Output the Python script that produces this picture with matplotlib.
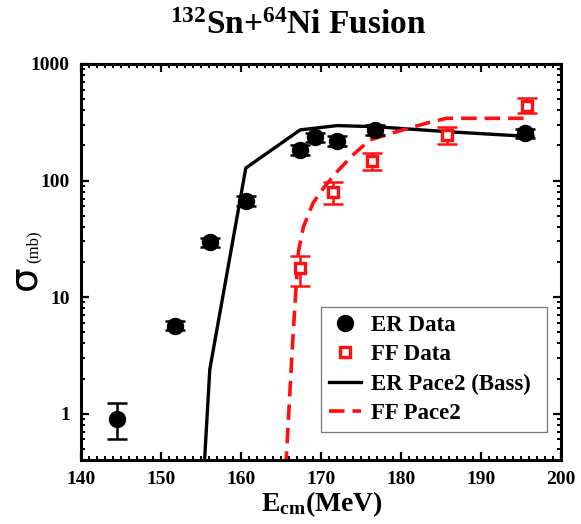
import matplotlib
matplotlib.use("Agg")
import matplotlib.pyplot as plt
from matplotlib.ticker import LogLocator, MultipleLocator, NullFormatter, FixedLocator, FixedFormatter

plt.rcParams['font.family'] = ['Liberation Serif', 'DejaVu Serif']
plt.rcParams['font.weight'] = 'bold'
plt.rcParams['mathtext.fontset'] = 'custom'
plt.rcParams['mathtext.rm'] = 'Liberation Serif:bold'
plt.rcParams['mathtext.bf'] = 'Liberation Serif:bold'
plt.rcParams['mathtext.it'] = 'Liberation Serif:bold'

# Evaporation residue (ER) cross sections
er_energy = [144.5, 151.75, 156.1, 160.6, 167.4, 169.25, 172.0, 176.7, 195.5]
er_sigma = [0.9, 5.7, 29.5, 67, 183, 235, 219, 272, 255]
er_err_lo = [0.3, 0.5, 2.5, 6, 17, 22, 20, 25, 24]
er_err_hi = [0.33, 0.5, 2.5, 6, 17, 22, 20, 25, 24]

# Fission fragment (FF) cross sections
ff_energy = [167.4, 171.5, 176.4, 185.8, 195.7]
ff_sigma = [17.7, 80, 148, 246, 437]
ff_err_lo = [5.2, 17, 25, 40, 54]
ff_err_hi = [4.6, 18, 24, 41, 71]

# PACE2 calculations
er_pace_energy = [155.4, 156.1, 160.6, 167.4, 172.0, 176.7, 186.0, 196.5]
er_pace_sigma = [0.35, 2.4, 128, 272, 296, 290, 262, 238]

ff_pace_energy = [165.6, 166.4, 166.8, 167.2, 167.8, 169.0, 170.3, 172.0,
                  174.0, 176.1, 179.5, 183.2, 185.7, 195.7]
ff_pace_sigma = [0.35, 3.5, 10, 25, 40, 64, 86, 119,
                 166, 223, 263, 311, 342, 342]

x_ticks = [140, 150, 160, 170, 180, 190, 200]
y_ticks = [1, 10, 100, 1000]
y_tick_labels = ['1', '10', '100', '1000']

red = '#ff1010'

fig = plt.figure(figsize=(5.81, 5.24), dpi=100)
ax = fig.add_axes([81 / 581, 1 - 460 / 524, 480 / 581, 396 / 524])

ax.plot(er_pace_energy, er_pace_sigma, color='black', lw=2.4,
        label='ER Pace2 (Bass)', zorder=2)
ax.plot(ff_pace_energy, ff_pace_sigma, color=red, lw=2.6,
        dashes=(4.3, 2.2), label='FF Pace2', zorder=2)

ax.errorbar(er_energy, er_sigma, yerr=[er_err_lo, er_err_hi], fmt='none',
            ecolor='black', elinewidth=1.8, capsize=7.5, capthick=1.8, zorder=3)
ax.errorbar(ff_energy, ff_sigma, yerr=[ff_err_lo, ff_err_hi], fmt='none',
            ecolor=red, elinewidth=1.8, capsize=7.5, capthick=1.8, zorder=3)
ax.plot(er_energy, er_sigma, 'o', color='black', ms=11.5, ls='none',
        label='ER Data', zorder=4)
ax.plot(ff_energy, ff_sigma, 's', mfc='white', mec=red, mew=2.4, ms=7.5,
        ls='none', label='FF Data', zorder=4)

ax.set_yscale('log')
ax.set_xlim(140, 200)
ax.set_ylim(0.4, 1000)

ax.xaxis.set_major_locator(FixedLocator(x_ticks))
ax.xaxis.set_minor_locator(MultipleLocator(1))
ax.yaxis.set_major_locator(FixedLocator(y_ticks))
ax.yaxis.set_major_formatter(FixedFormatter(y_tick_labels))
ax.yaxis.set_minor_locator(LogLocator(base=10, subs=range(2, 10)))
ax.yaxis.set_minor_formatter(NullFormatter())

ax.tick_params(which='both', direction='in', top=True, right=True,
               labelsize=14, pad=8)
ax.tick_params(which='major', length=5.5, width=1.6)
ax.tick_params(which='minor', length=2.8, width=1.4)
for s in ax.spines.values():
    s.set_linewidth(2.2)

handles, labels = ax.get_legend_handles_labels()
order = [labels.index(k) for k in ['ER Data', 'FF Data', 'ER Pace2 (Bass)', 'FF Pace2']]
leg = ax.legend([handles[i] for i in order], [labels[i] for i in order],
                loc='lower left', bbox_to_anchor=(0.5, 0.0707, 0.4708, 0.328),
                mode='expand', borderaxespad=0, fancybox=False,
                fontsize=16.5, handlelength=1.4, handletextpad=0.45,
                labelspacing=0.36, borderpad=0.35, frameon=True)
leg.get_frame().set_edgecolor('#555555')
leg.get_frame().set_linewidth(0.9)

fig.text(298 / 581, 1 - 34 / 524, r'$^{132}$Sn+$^{64}$Ni Fusion',
         ha='center', va='baseline', fontsize=24, fontweight='bold')
fig.text(322 / 581, 1 - 511 / 524, r'E$_{\mathrm{cm}}$(MeV)',
         ha='center', va='baseline', fontsize=20, fontweight='bold')
fig.text(43 / 581, 1 - 278 / 524, '\u03c3', rotation=90, ha='right',
         va='center', fontsize=28, fontweight='normal', family=['DejaVu Sans'])
fig.text(42 / 581, 1 - 247 / 524, '(mb)', rotation=90, ha='right',
         va='center', fontsize=12, fontweight='normal')

fig.savefig('out.png', dpi=100)
